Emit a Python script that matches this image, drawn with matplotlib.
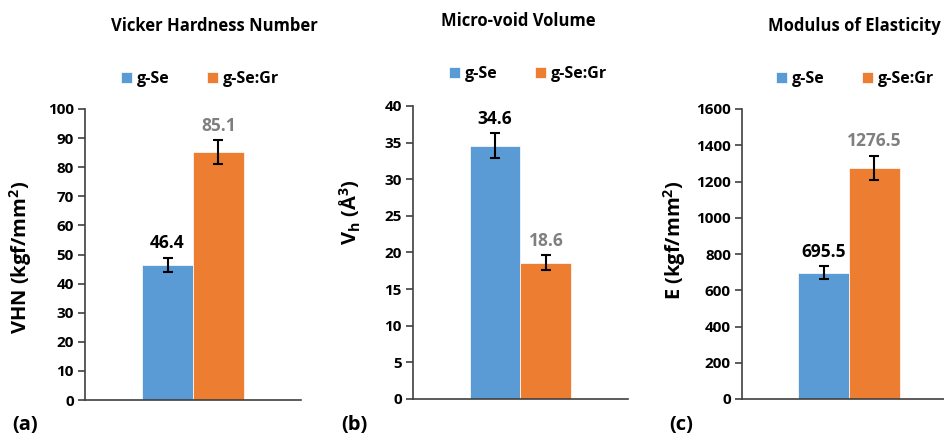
import matplotlib.pyplot as plt
import numpy as np

plt.rcParams['font.family'] = ['Open Sans', 'DejaVu Sans']
plt.rcParams['font.weight'] = 'bold'
plt.rcParams['mathtext.fontset'] = 'custom'
plt.rcParams['mathtext.rm'] = 'Open Sans:bold'
plt.rcParams['mathtext.it'] = 'Open Sans:bold'
plt.rcParams['mathtext.bf'] = 'Open Sans:bold'
plt.rcParams['mathtext.default'] = 'rm'

# data
groups = ['g-Se', 'g-Se:Gr']
vhn = [46.4, 85.1]
vhn_err = [2.4, 4.1]
vh = [34.6, 18.6]
vh_err = [1.7, 1.0]
modulus = [695.5, 1276.5]
modulus_err = [36, 66]

colors = ['#5B9BD5', '#ED7D31']
label_colors = ['black', '#7F7F7F']
axis_color = '#404040'

W, H = 945, 438
fig = plt.figure(figsize=(W / 100, H / 100), dpi=100)


def px(left, top, right, bottom):
    # pixel box -> figure fraction rect
    return [left / W, 1 - bottom / H, (right - left) / W, (bottom - top) / H]


panels = [
    dict(rect=px(85, 109, 301, 400), vals=vhn, err=vhn_err, ymax=100, step=10,
         title='Vicker Hardness Number', title_xy=(214, 26),
         ylabel='VHN (kgf/mm$^{2}$)', ylab_xy=(34, 257),
         legend_xy=(200, 79), tag='(a)', tag_xy=(25, 425)),
    dict(rect=px(413, 106, 628, 399), vals=vh, err=vh_err, ymax=40, step=5,
         title='Micro-void Volume', title_xy=(518, 21),
         ylabel='V$_{h}$ (Å$^{3}$)', ylab_xy=(363, 212),
         legend_xy=(528, 74), tag='(b)', tag_xy=(354, 425)),
    dict(rect=px(742, 109, 956, 399), vals=modulus, err=modulus_err, ymax=1600, step=200,
         title='Modulus of Elasticity', title_xy=(854, 26),
         ylabel='E (kgf/mm$^{2}$)', ylab_xy=(688, 240),
         legend_xy=(855, 79), tag='(c)', tag_xy=(681, 425)),
]

width = 0.236
offsets = [-width / 2, width / 2]

for p in panels:
    ax = fig.add_axes(p['rect'])
    for i, g in enumerate(groups):
        ax.bar(offsets[i], p['vals'][i], width=width, color=colors[i], label=g,
               edgecolor='white', linewidth=0.5)
        ax.errorbar(offsets[i], p['vals'][i], yerr=p['err'][i], color='black',
                    capsize=3.5, elinewidth=1.5, capthick=1.5, fmt='none')
        ax.annotate(f"{p['vals'][i]}", (offsets[i], p['vals'][i] + p['err'][i]),
                    xytext=(0, 4), textcoords='offset points', ha='center', va='bottom',
                    fontsize=12.5, fontweight='bold', color=label_colors[i])
    ax.set_xlim(-0.5, 0.5)
    ax.set_ylim(0, p['ymax'])
    ax.set_yticks(np.arange(0, p['ymax'] + 1, p['step']))
    ax.set_xticks([])
    for s in ['top', 'right']:
        ax.spines[s].set_visible(False)
    for s in ['left', 'bottom']:
        ax.spines[s].set_color(axis_color)
        ax.spines[s].set_linewidth(1.2)
    ax.tick_params(axis='y', direction='out', length=5, width=1.2, color=axis_color,
                   labelsize=11, pad=3)
    for t in ax.get_yticklabels():
        t.set_fontweight('bold')
    ax.set_ylabel(p['ylabel'], fontsize=14.5, fontweight='bold')
    ax.yaxis.set_label_coords(*ax.transAxes.inverted().transform(
        fig.transFigure.transform((p['ylab_xy'][0] / W, 1 - p['ylab_xy'][1] / H))))

    fig.text(p['title_xy'][0] / W, 1 - p['title_xy'][1] / H, p['title'],
             ha='center', va='center', fontsize=12, fontweight='bold')
    fig.text(p['tag_xy'][0] / W, 1 - p['tag_xy'][1] / H, p['tag'],
             ha='center', va='center', fontsize=14.5, fontweight='bold')
    fig.legend(*ax.get_legend_handles_labels(), loc='center',
               bbox_to_anchor=(p['legend_xy'][0] / W, 1 - p['legend_xy'][1] / H),
               ncol=2, frameon=False, handlelength=0.7, handleheight=0.7,
               handletextpad=0.3, columnspacing=2.3, borderpad=0, borderaxespad=0,
               prop=dict(weight='bold', size=11.5))

fig.savefig('out.png', dpi=100)
